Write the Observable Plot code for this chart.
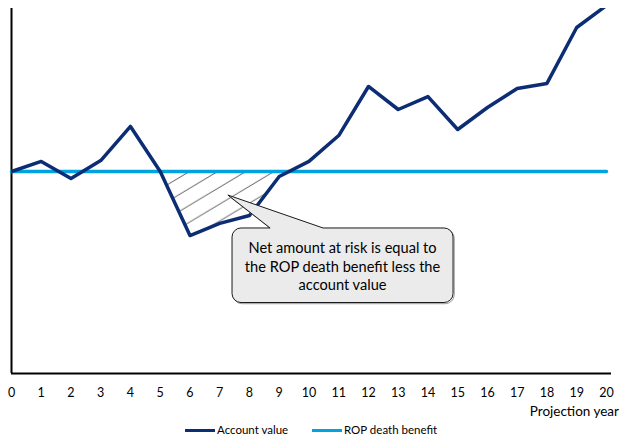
<!DOCTYPE html>
<html>
<head>
<meta charset="utf-8">
<script src="https://cdn.jsdelivr.net/npm/d3@7"></script>
<script src="https://cdn.jsdelivr.net/npm/@observablehq/plot@0.6"></script>
<style>
  body { margin: 0; background: #fff; font-family: Lato, "Open Sans", sans-serif; }
  #wrap { position: relative; width: 621px; }
  #legend { position: relative; width: 621px; height: 17px; font-size: 11.5px; color: #000; }
  #legend .sw { position: absolute; top: 9px; height: 3px; width: 30px; }
  #legend .lb { position: absolute; top: 3px; line-height: 14px; white-space: nowrap; }
</style>
</head>
<body>
<div id="wrap"></div>
<script>
// ---- data ----
const years = [0,1,2,3,4,5,6,7,8,9,10,11,12,13,14,15,16,17,18,19,20];
const accountValue = [100,105,96.5,105.4,122.3,100,68.3,74.3,78.2,97.5,105,117.8,142.1,130.7,137.1,120.8,131.7,141.1,143.6,171.3,182.2];
const ropDeathBenefit = [100,100,100,100,100,100,100,100,100,100,100,100,100,100,100,100,100,100,100,100,100];
const xTickLabels = ["0","1","2","3","4","5","6","7","8","9","10","11","12","13","14","15","16","17","18","19","20"];
const seriesNames = ["Account value", "ROP death benefit"];
const xAxisTitle = "Projection year";
const calloutLines = ["Net amount at risk is equal to", "the ROP death benefit less the", "account value"];

// ---- styles / annotation placement (data units) ----
const colors = ["#0c2d74", "#00a3e0"];
const callout = { x1: 7.43, x2: 14.86, yTop: 71.8, yBottom: 34.9, base1: 8.71, base2: 10.49, tipX: 7.29, tipY: 88.1 };

const rows = years.map((yr, i) => ({ year: yr, account: accountValue[i], rop: ropDeathBenefit[i] }));

// Shaded region where the account value is below the ROP benefit (years 4-10 dip)
const hatch = [];
for (let i = 4; i < 10; i++) {
  const a = rows[i], b = rows[i + 1];
  const da = a.account - a.rop, db = b.account - b.rop;
  if (da <= 0) hatch.push({ x: a.year, lo: a.account, hi: a.rop });
  if ((da < 0 && db > 0) || (da > 0 && db < 0)) {
    const t = da / (da - db);
    const xc = a.year + t * (b.year - a.year);
    const yc = a.rop + t * (b.rop - a.rop);
    hatch.push({ x: xc, lo: yc, hi: yc });
  }
}

const chart = Plot.plot({
  width: 621,
  height: 420,
  marginLeft: 11,
  marginRight: 10,
  marginTop: 8,
  marginBottom: 47,
  style: { fontFamily: "Lato, 'Open Sans', sans-serif", fontSize: "12.5px", color: "#000", background: "#fff" },
  x: { domain: [0, 20.17], ticks: years, tickFormat: (d, i) => xTickLabels[i], tickSize: 0, tickPadding: 15, label: null },
  y: { domain: [0, 180.7], axis: null },
  marks: [
    Plot.areaY(hatch, { x: "x", y1: "lo", y2: "hi", fill: "url(#hatch)" }),
    Plot.ruleX([0], { stroke: "#000", strokeWidth: 2 }),
    Plot.ruleY([0], { stroke: "#000", strokeWidth: 2 }),
    Plot.lineY(rows, { x: "year", y: "rop", stroke: colors[1], strokeWidth: 3.5 }),
    Plot.lineY(rows, { x: "year", y: "account", stroke: colors[0], strokeWidth: 3.5, clip: true })
  ]
});

const svg = d3.select(chart);
const defs = svg.insert("defs", ":first-child");
const pw = 28.2, ph = 16.9;
const pat = defs.append("pattern")
  .attr("id", "hatch")
  .attr("patternUnits", "userSpaceOnUse")
  .attr("x", -3.8).attr("y", 0)
  .attr("width", pw).attr("height", ph);
[-ph, 0, ph].forEach(off => {
  pat.append("line")
    .attr("x1", -pw).attr("y1", 2 * ph + off)
    .attr("x2", 2 * pw).attr("y2", -ph + off)
    .attr("stroke", "#4a4a4a").attr("stroke-width", 0.9);
});

// axis title at the bottom right
svg.append("text")
  .attr("x", 619).attr("y", 416)
  .attr("text-anchor", "end")
  .attr("font-size", 13.5).attr("fill", "#000")
  .text(xAxisTitle);

// callout
const sx = chart.scale("x"), sy = chart.scale("y");
const X = v => sx.apply(v), Y = v => sy.apply(v);
const x1 = X(callout.x1), x2 = X(callout.x2), yt = Y(callout.yTop), yb = Y(callout.yBottom);
const b1 = X(callout.base1), b2 = X(callout.base2), tx = X(callout.tipX), ty = Y(callout.tipY);
const r = 9;
const d = `M${x1 + r},${yt} L${b1},${yt} L${tx},${ty} L${b2},${yt} L${x2 - r},${yt}
  A${r},${r} 0 0 1 ${x2},${yt + r} L${x2},${yb - r} A${r},${r} 0 0 1 ${x2 - r},${yb}
  L${x1 + r},${yb} A${r},${r} 0 0 1 ${x1},${yb - r} L${x1},${yt + r} A${r},${r} 0 0 1 ${x1 + r},${yt} Z`;
const g = svg.append("g");
g.append("path").attr("d", d).attr("transform", "translate(1.2,1.2)").attr("fill", "none").attr("stroke", "#999").attr("stroke-width", 1);
g.append("path").attr("d", d).attr("fill", "#ebebeb").attr("stroke", "#1a1a1a").attr("stroke-width", 1);
const cx = (x1 + x2) / 2;
calloutLines.forEach((t, i) => {
  g.append("text").attr("x", cx).attr("y", yt + 25 + i * 18.6)
    .attr("text-anchor", "middle").attr("font-size", 14.6).attr("fill", "#000").text(t);
});

document.getElementById("wrap").appendChild(chart);

// legend below the chart
const legend = document.createElement("div");
legend.id = "legend";
const legendPos = [[185, 217], [312, 344]];
seriesNames.forEach((name, i) => {
  const sw = document.createElement("div");
  sw.className = "sw"; sw.style.left = legendPos[i][0] + "px"; sw.style.background = colors[i];
  const lb = document.createElement("div");
  lb.className = "lb"; lb.style.left = legendPos[i][1] + "px"; lb.textContent = name;
  legend.appendChild(sw); legend.appendChild(lb);
});
document.getElementById("wrap").appendChild(legend);
</script>
</body>
</html>
